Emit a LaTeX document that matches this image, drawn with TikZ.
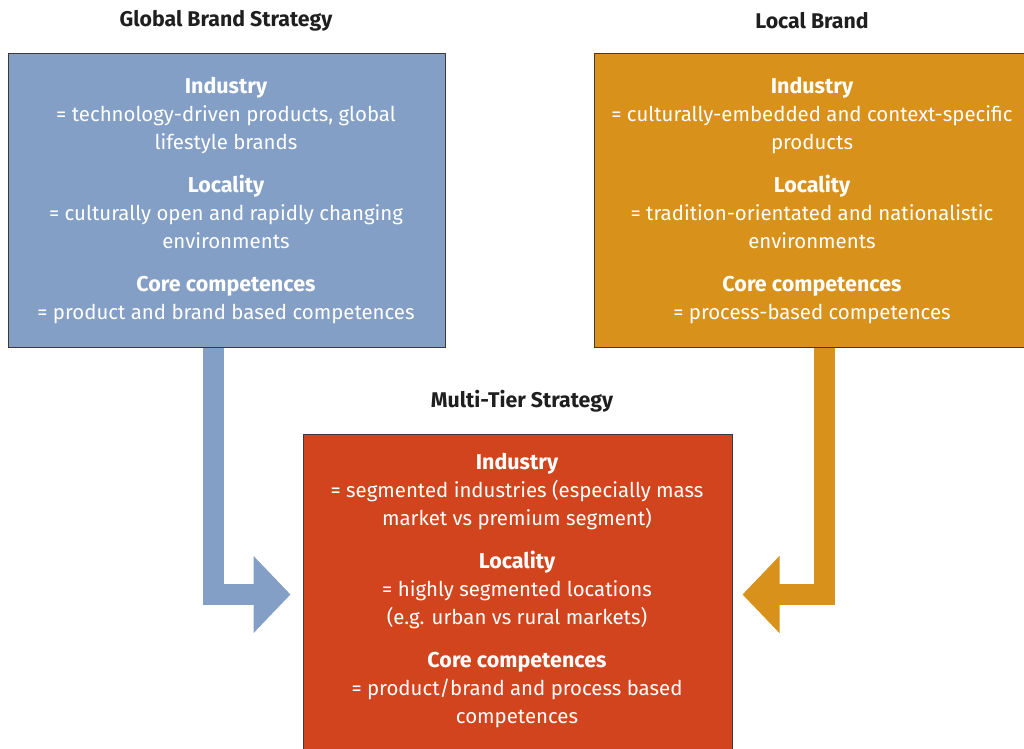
\documentclass[tikz,border=0pt]{standalone}
\usepackage{fontspec}
\setmainfont{Fira Sans}
\usetikzlibrary{arrows.meta,positioning}
\definecolor{globalblue}{HTML}{839FC5}
\definecolor{localgold}{HTML}{D8911A}
\definecolor{tierred}{HTML}{D1441D}
\definecolor{edgegray}{HTML}{3A3A3A}
\newcommand{\hd}[1]{{\fontsize{21.5}{28}\selectfont\bfseries #1}}

\begin{document}
\begin{tikzpicture}[x=1pt,y=-1pt,line join=miter,
  box/.style={draw=edgegray,line width=1pt,inner sep=0pt},
  boxtext/.style={text=white,align=center,font=\fontsize{20.4}{28}\selectfont},
  title/.style={font=\fontsize{21.3}{24}\selectfont\bfseries,text=black!88},
  flow/.style={line width=21pt,-{Triangle[length=37pt,width=75pt]}}]
  \useasboundingbox (0,0) rectangle (1024,748);
  % boxes (drawn later over the arrow ends)
  \path (226.5,200) coordinate (gc) (812,200) coordinate (lc) (517.5,602) coordinate (mc);
  \node[box,minimum width=437pt,minimum height=294pt] (global) at (gc) {};
  \node[box,minimum width=436pt,minimum height=294pt] (local) at (lc) {};
  \node[box,minimum width=429pt,minimum height=336pt] (multi) at (mc) {};
  % arrows
  \draw[flow,globalblue] ([xshift=-13.5pt]global.south) |- ([xshift=-12pt,yshift=7.5pt]multi.west);
  \draw[flow,localgold] ([xshift=12.5pt]local.south) |- ([xshift=10pt,yshift=7.5pt]multi.east);
  \node[box,fill=globalblue,minimum width=437pt,minimum height=294pt] at (gc) {};
  \node[box,fill=localgold,minimum width=436pt,minimum height=294pt] at (lc) {};
  \node[box,fill=tierred,minimum width=429pt,minimum height=336pt] at (mc) {};
  % titles
  \node[title] (gtitle) at (226,21) {Global Brand Strategy};
  \node[title] (ltitle) at (812,21) {Local Brand};
  \node[title] (mtitle) at (522,401) {Multi-Tier Strategy};
  % box texts
  \node[boxtext] (gtext) at (226,200.5) {\hd{Industry}\\= technology-driven products, global\\lifestyle brands\\[15pt]
    \hd{Locality}\\= culturally open and rapidly changing\\environments\\[15pt]
    \hd{Core competences}\\= product and brand based competences};
  \node[boxtext] (ltext) at (812,200.5) {\hd{Industry}\\= culturally-embedded and context-specific\\products\\[15pt]
    \hd{Locality}\\= tradition-orientated and nationalistic\\environments\\[15pt]
    \hd{Core competences}\\= process-based competences};
  \node[boxtext] (mtext) at (517,590.5) {\hd{Industry}\\= segmented industries (especially mass\\market vs premium segment)\\[15pt]
    \hd{Locality}\\= highly segmented locations\\(e.g. urban vs rural markets)\\[15pt]
    \hd{Core competences}\\= product/brand and process based\\competences};
\end{tikzpicture}
\end{document}
